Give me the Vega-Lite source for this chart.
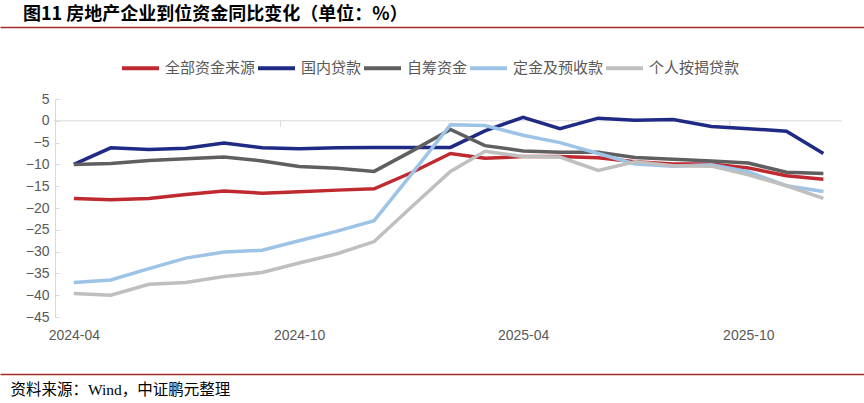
{
  "$schema": "https://vega.github.io/schema/vega-lite/v6.json",
  "width": 864,
  "height": 218,
  "autosize": {"type": "none"},
  "padding": {"left": 0, "top": 99, "right": 0, "bottom": 86},
  "background": "white",
  "title": {
    "text": "图11 房地产企业到位资金同比变化（单位：%）",
    "anchor": "start",
    "frame": "group",
    "dx": 23,
    "dy": 3,
    "offset": 6,
    "font": "Noto Sans CJK SC",
    "fontSize": 18,
    "fontWeight": "bold",
    "color": "#000000"
  },
  "resolve": {"axis": {"x": "independent"}},
  "encoding": {
    "y": {
      "type": "quantitative",
      "scale": {"domain": [-45, 5], "nice": false, "zero": false},
      "axis": {
        "values": [5, 0, -5, -10, -15, -20, -25, -30, -35, -40, -45],
        "offset": -55,
        "grid": false,
        "ticks": true,
        "tickSize": -4,
        "tickColor": "#D9D9D9",
        "domainColor": "#D9D9D9",
        "domainWidth": 1,
        "labelPadding": 10,
        "labelFont": "Liberation Sans",
        "labelFontSize": 14,
        "labelColor": "#595959",
        "title": null
      }
    }
  },
  "layer": [
    {
      "data": {"values": [{"start": "2024-03-16", "end": "2025-12-16", "v": 0}]},
      "mark": {"type": "rule", "color": "#D9D9D9", "strokeWidth": 1},
      "encoding": {
        "x": {
          "field": "start", "type": "temporal",
          "scale": {"type": "utc", "domain": [{"year": 2024, "month": 2, "date": 1, "utc": true}, {"year": 2026, "month": 1, "date": 3, "utc": true}]},
          "axis": {"orient": "top", "offset": 72, "labels": false, "ticks": false, "grid": false, "title": null, "domainColor": "#A52A2A", "domainWidth": 1.3}
        },
        "x2": {"field": "end"},
        "y": {"field": "v"}
      }
    },
    {
      "data": {"values": [{"d": "2024-09-16", "v": 0, "v2": -1.4}, {"d": "2025-03-16", "v": 0, "v2": -1.4}, {"d": "2025-09-16", "v": 0, "v2": -1.4}]},
      "mark": {"type": "rule", "color": "#D9D9D9", "strokeWidth": 1},
      "encoding": {
        "x": {"field": "d", "type": "temporal", "axis": null},
        "y": {"field": "v"},
        "y2": {"field": "v2"}
      }
    },
    {
      "data": {
        "values": [
          {"date": "2024-04-01", "series": "全部资金来源", "value": -17.8},
          {"date": "2024-05-01", "series": "全部资金来源", "value": -18.1},
          {"date": "2024-06-01", "series": "全部资金来源", "value": -17.8},
          {"date": "2024-07-01", "series": "全部资金来源", "value": -16.9},
          {"date": "2024-08-01", "series": "全部资金来源", "value": -16.1},
          {"date": "2024-09-01", "series": "全部资金来源", "value": -16.6},
          {"date": "2024-10-01", "series": "全部资金来源", "value": -16.3},
          {"date": "2024-11-01", "series": "全部资金来源", "value": -15.9},
          {"date": "2024-12-01", "series": "全部资金来源", "value": -15.6},
          {"date": "2025-01-01", "series": "全部资金来源", "value": -11.8},
          {"date": "2025-02-01", "series": "全部资金来源", "value": -7.5},
          {"date": "2025-03-01", "series": "全部资金来源", "value": -8.6},
          {"date": "2025-04-01", "series": "全部资金来源", "value": -8.2},
          {"date": "2025-05-01", "series": "全部资金来源", "value": -8.2},
          {"date": "2025-06-01", "series": "全部资金来源", "value": -8.5},
          {"date": "2025-07-01", "series": "全部资金来源", "value": -9.4},
          {"date": "2025-08-01", "series": "全部资金来源", "value": -9.9},
          {"date": "2025-09-01", "series": "全部资金来源", "value": -9.9},
          {"date": "2025-10-01", "series": "全部资金来源", "value": -10.8},
          {"date": "2025-11-01", "series": "全部资金来源", "value": -12.6},
          {"date": "2025-12-01", "series": "全部资金来源", "value": -13.4},
          {"date": "2024-04-01", "series": "国内贷款", "value": -10.0},
          {"date": "2024-05-01", "series": "国内贷款", "value": -6.2},
          {"date": "2024-06-01", "series": "国内贷款", "value": -6.6},
          {"date": "2024-07-01", "series": "国内贷款", "value": -6.3},
          {"date": "2024-08-01", "series": "国内贷款", "value": -5.1},
          {"date": "2024-09-01", "series": "国内贷款", "value": -6.2},
          {"date": "2024-10-01", "series": "国内贷款", "value": -6.4},
          {"date": "2024-11-01", "series": "国内贷款", "value": -6.2},
          {"date": "2024-12-01", "series": "国内贷款", "value": -6.1},
          {"date": "2025-01-01", "series": "国内贷款", "value": -6.1},
          {"date": "2025-02-01", "series": "国内贷款", "value": -6.1},
          {"date": "2025-03-01", "series": "国内贷款", "value": -2.3},
          {"date": "2025-04-01", "series": "国内贷款", "value": 0.8},
          {"date": "2025-05-01", "series": "国内贷款", "value": -1.8},
          {"date": "2025-06-01", "series": "国内贷款", "value": 0.6},
          {"date": "2025-07-01", "series": "国内贷款", "value": 0.1},
          {"date": "2025-08-01", "series": "国内贷款", "value": 0.3},
          {"date": "2025-09-01", "series": "国内贷款", "value": -1.3},
          {"date": "2025-10-01", "series": "国内贷款", "value": -1.8},
          {"date": "2025-11-01", "series": "国内贷款", "value": -2.4},
          {"date": "2025-12-01", "series": "国内贷款", "value": -7.5},
          {"date": "2024-04-01", "series": "自筹资金", "value": -10.0},
          {"date": "2024-05-01", "series": "自筹资金", "value": -9.8},
          {"date": "2024-06-01", "series": "自筹资金", "value": -9.1},
          {"date": "2024-07-01", "series": "自筹资金", "value": -8.7},
          {"date": "2024-08-01", "series": "自筹资金", "value": -8.3},
          {"date": "2024-09-01", "series": "自筹资金", "value": -9.2},
          {"date": "2024-10-01", "series": "自筹资金", "value": -10.5},
          {"date": "2024-11-01", "series": "自筹资金", "value": -10.9},
          {"date": "2024-12-01", "series": "自筹资金", "value": -11.6},
          {"date": "2025-01-01", "series": "自筹资金", "value": -6.9},
          {"date": "2025-02-01", "series": "自筹资金", "value": -2.0},
          {"date": "2025-03-01", "series": "自筹资金", "value": -5.7},
          {"date": "2025-04-01", "series": "自筹资金", "value": -6.9},
          {"date": "2025-05-01", "series": "自筹资金", "value": -7.2},
          {"date": "2025-06-01", "series": "自筹资金", "value": -7.2},
          {"date": "2025-07-01", "series": "自筹资金", "value": -8.4},
          {"date": "2025-08-01", "series": "自筹资金", "value": -8.8},
          {"date": "2025-09-01", "series": "自筹资金", "value": -9.2},
          {"date": "2025-10-01", "series": "自筹资金", "value": -9.7},
          {"date": "2025-11-01", "series": "自筹资金", "value": -11.8},
          {"date": "2025-12-01", "series": "自筹资金", "value": -12.1},
          {"date": "2024-04-01", "series": "定金及预收款", "value": -37.1},
          {"date": "2024-05-01", "series": "定金及预收款", "value": -36.5},
          {"date": "2024-06-01", "series": "定金及预收款", "value": -33.9},
          {"date": "2024-07-01", "series": "定金及预收款", "value": -31.5},
          {"date": "2024-08-01", "series": "定金及预收款", "value": -30.1},
          {"date": "2024-09-01", "series": "定金及预收款", "value": -29.7},
          {"date": "2024-10-01", "series": "定金及预收款", "value": -27.5},
          {"date": "2024-11-01", "series": "定金及预收款", "value": -25.3},
          {"date": "2024-12-01", "series": "定金及预收款", "value": -22.9},
          {"date": "2025-01-01", "series": "定金及预收款", "value": -12.0},
          {"date": "2025-02-01", "series": "定金及预收款", "value": -0.9},
          {"date": "2025-03-01", "series": "定金及预收款", "value": -1.1},
          {"date": "2025-04-01", "series": "定金及预收款", "value": -3.3},
          {"date": "2025-05-01", "series": "定金及预收款", "value": -5.0},
          {"date": "2025-06-01", "series": "定金及预收款", "value": -7.5},
          {"date": "2025-07-01", "series": "定金及预收款", "value": -9.9},
          {"date": "2025-08-01", "series": "定金及预收款", "value": -10.4},
          {"date": "2025-09-01", "series": "定金及预收款", "value": -10.1},
          {"date": "2025-10-01", "series": "定金及预收款", "value": -11.7},
          {"date": "2025-11-01", "series": "定金及预收款", "value": -14.9},
          {"date": "2025-12-01", "series": "定金及预收款", "value": -16.2},
          {"date": "2024-04-01", "series": "个人按揭贷款", "value": -39.6},
          {"date": "2024-05-01", "series": "个人按揭贷款", "value": -40.0},
          {"date": "2024-06-01", "series": "个人按揭贷款", "value": -37.5},
          {"date": "2024-07-01", "series": "个人按揭贷款", "value": -37.1},
          {"date": "2024-08-01", "series": "个人按揭贷款", "value": -35.7},
          {"date": "2024-09-01", "series": "个人按揭贷款", "value": -34.8},
          {"date": "2024-10-01", "series": "个人按揭贷款", "value": -32.6},
          {"date": "2024-11-01", "series": "个人按揭贷款", "value": -30.5},
          {"date": "2024-12-01", "series": "个人按揭贷款", "value": -27.7},
          {"date": "2025-01-01", "series": "个人按揭贷款", "value": -19.6},
          {"date": "2025-02-01", "series": "个人按揭贷款", "value": -11.6},
          {"date": "2025-03-01", "series": "个人按揭贷款", "value": -7.0},
          {"date": "2025-04-01", "series": "个人按揭贷款", "value": -8.2},
          {"date": "2025-05-01", "series": "个人按揭贷款", "value": -8.3},
          {"date": "2025-06-01", "series": "个人按揭贷款", "value": -11.4},
          {"date": "2025-07-01", "series": "个人按揭贷款", "value": -9.4},
          {"date": "2025-08-01", "series": "个人按揭贷款", "value": -10.3},
          {"date": "2025-09-01", "series": "个人按揭贷款", "value": -10.4},
          {"date": "2025-10-01", "series": "个人按揭贷款", "value": -12.4},
          {"date": "2025-11-01", "series": "个人按揭贷款", "value": -14.9},
          {"date": "2025-12-01", "series": "个人按揭贷款", "value": -17.8}
        ]
      },
      "mark": {"type": "line", "strokeWidth": 3.5, "strokeJoin": "miter", "strokeCap": "butt"},
      "encoding": {
        "x": {
          "field": "date", "type": "temporal",
          "axis": {
            "orient": "bottom",
            "offset": 57,
            "values": [
              {"year": 2024, "month": 4, "date": 1, "utc": true},
              {"year": 2024, "month": 10, "date": 1, "utc": true},
              {"year": 2025, "month": 4, "date": 1, "utc": true},
              {"year": 2025, "month": 10, "date": 1, "utc": true}
            ],
            "format": "%Y-%m",
            "ticks": false,
            "grid": false,
            "domainColor": "#A52A2A",
            "domainWidth": 1.3,
            "labelPadding": -46,
            "labelFont": "Liberation Sans",
            "labelFontSize": 14,
            "labelColor": "#595959",
            "labelFlush": false,
            "title": "资料来源：Wind，中证鹏元整理",
            "titleAnchor": "start",
            "titleAlign": "left",
            "titleX": 10,
            "titleY": 20,
            "titleBaseline": "alphabetic",
            "titleFont": "Liberation Serif, Noto Sans CJK SC",
            "titleFontSize": 15.5,
            "titleFontWeight": "normal",
            "titleColor": "#000000"
          }
        },
        "y": {"field": "value"},
        "color": {
          "field": "series", "type": "nominal",
          "sort": ["全部资金来源", "国内贷款", "自筹资金", "定金及预收款", "个人按揭贷款"],
          "scale": {
            "domain": ["全部资金来源", "国内贷款", "自筹资金", "定金及预收款", "个人按揭贷款"],
            "range": ["#BF2A30", "#1F2A84", "#5F5F5F", "#9DC3E6", "#BFBFBF"]
          },
          "legend": {
            "orient": "none",
            "legendX": 120,
            "legendY": -51.5,
            "direction": "horizontal",
            "title": null,
            "symbolType": "stroke",
            "symbolSize": 1369,
            "symbolStrokeWidth": 4,
            "labelFont": "Noto Sans CJK SC",
            "labelFontSize": 15,
            "labelColor": "#595959",
            "labelOffset": 4,
            "columnPadding": -9,
            "padding": 0
          }
        }
      }
    }
  ],
  "config": {"view": {"stroke": null}}
}
